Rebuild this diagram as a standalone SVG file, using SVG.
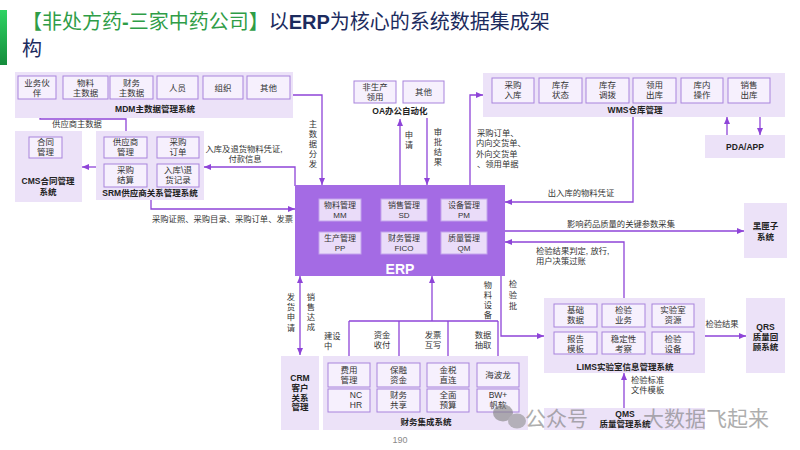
<svg xmlns="http://www.w3.org/2000/svg" width="800" height="450" viewBox="0 0 800 450">
<defs>
<linearGradient id="gbar" x1="0" y1="0" x2="0" y2="1"><stop offset="0" stop-color="#2fd363"/><stop offset="1" stop-color="#158c3c"/></linearGradient>
<marker id="ah" markerUnits="userSpaceOnUse" markerWidth="7" markerHeight="6" refX="7" refY="3" orient="auto-start-reverse"><path d="M0,0 L7,3 L0,6 z" fill="#8e44d8"/></marker>
<style>
text{font-family:'Liberation Sans','Noto Sans CJK SC',sans-serif;}
.ctr{fill:#ece2f8;}
.ib{fill:#f6f0fd;stroke:#a883dc;stroke-width:1;}
.eb{fill:#eadcf9;stroke:#c3a4ec;stroke-width:1;}
.t{font-size:8.5px;fill:#333;text-anchor:middle;}
.te{font-size:8px;fill:#333;text-anchor:middle;}
.b{font-size:8.5px;font-weight:bold;fill:#222;text-anchor:middle;}
.lb{font-size:8.3px;fill:#333;}
.lm{font-size:8.3px;fill:#333;text-anchor:middle;}
.ln{stroke:#8e44d8;stroke-width:1.3;fill:none;}
.ar{marker-end:url(#ah);}
</style>
</defs>
<rect width="800" height="450" fill="#ffffff"/>
<g id="title">
<rect x="0" y="10" width="7" height="55" fill="url(#gbar)"/>
<text x="22" y="29" font-size="20" fill="#1c2b5e"><tspan fill="#2f9d47">【非处方药</tspan><tspan fill="#2f9d47" font-weight="bold">-</tspan><tspan fill="#2f9d47">三家中药公司】</tspan>以<tspan font-weight="bold">ERP</tspan>为核心的系统数据集成架</text>
<text x="22" y="56" font-size="20" fill="#1c2b5e">构</text>
</g>
<g id="connectors">
<path class="ln ar" d="M293,95 H322 V185"/>
<path class="ln ar" d="M126,137 V119 H40 V100"/>
<path class="ln ar" d="M96,167 H82"/>
<path class="ln ar" d="M295,186 V167 H204"/>
<path class="ln ar" d="M151,200 V209 H295"/>
<path class="ln ar" d="M400,185 V119"/>
<path class="ln ar" d="M427,118 V185"/>
<path class="ln ar" d="M470,185 V95 H483"/>
<path class="ln ar" d="M727,135 V117"/>
<path class="ln ar" d="M760,117 V135"/>
<path class="ln ar" d="M633,117 V202 H505"/>
<path class="ln ar" d="M505,231 H744"/>
<path class="ln ar" d="M624,298 V242 H505"/>
<path class="ln ar" d="M501,276 V336 H544"/>
<path class="ln ar" d="M300,355 V276" style="marker-start:url(#ah)"/>
<path class="ln ar" d="M432,321 V276"/>
<path class="ln" d="M349,321 H498"/>
<path class="ln ar" d="M349,321 V363"/>
<path class="ln ar" d="M399,321 V363"/>
<path class="ln ar" d="M448,321 V363"/>
<path class="ln ar" d="M498,321 V363"/>
<path class="ln ar" d="M705,336 H746"/>
<path class="ln ar" d="M624,408 V373"/>
</g>
<g id="connector-labels">
<text class="lm" x="77" y="127">供应商主数据</text>
<text class="lm" x="244" y="152">入库及退货物料凭证,</text>
<text class="lm" x="245" y="162">付款信息</text>
<text class="lb" x="152" y="222">采购证照、采购目录、采购订单、发票</text>
<text class="lm" x="313"><tspan x="313" y="127">主</tspan><tspan x="313" y="137">数</tspan><tspan x="313" y="147">据</tspan><tspan x="313" y="157">分</tspan><tspan x="313" y="167">发</tspan></text>
<text class="lm" x="409"><tspan x="409" y="138">申</tspan><tspan x="409" y="148">请</tspan></text>
<text class="lm" x="438"><tspan x="438" y="135">审</tspan><tspan x="438" y="145">批</tspan><tspan x="438" y="155">结</tspan><tspan x="438" y="165">果</tspan></text>
<text class="lb" x="477" y="136">采购订单、</text>
<text class="lb" x="476" y="146">内向交货单、</text>
<text class="lb" x="476" y="157">外向交货单</text>
<text class="lb" x="477" y="167">、领用单据</text>
<text class="lm" x="581" y="196">出入库的物料凭证</text>
<text class="lm" x="621" y="227">影响药品质量的关键参数采集</text>
<text class="lb" x="536" y="254">检验结果判定, 放行,</text>
<text class="lb" x="536" y="264">用户决策过账</text>
<text class="lm" x="513"><tspan x="513" y="287">检</tspan><tspan x="513" y="298">验</tspan><tspan x="513" y="309">批</tspan></text>
<text class="lm" x="488"><tspan x="488" y="288">物</tspan><tspan x="488" y="298">料</tspan><tspan x="488" y="308">设</tspan><tspan x="488" y="318">备</tspan></text>
<text class="lm" x="291"><tspan x="291" y="300">发</tspan><tspan x="291" y="310">货</tspan><tspan x="291" y="320">申</tspan><tspan x="291" y="331">请</tspan></text>
<text class="lm" x="311"><tspan x="311" y="300">销</tspan><tspan x="311" y="310">售</tspan><tspan x="311" y="320">达</tspan><tspan x="311" y="330">成</tspan></text>
<text class="lb" x="324" y="339">建设</text>
<text class="lb" x="324" y="349">中</text>
<text class="lm" x="382" y="338">资金</text>
<text class="lm" x="382" y="348">收付</text>
<text class="lm" x="433" y="338">发票</text>
<text class="lm" x="433" y="348">互写</text>
<text class="lm" x="483" y="338">数据</text>
<text class="lm" x="483" y="348">抽取</text>
<text class="lm" x="722" y="327">检验结果</text>
<text class="lb" x="631" y="383">检验标准</text>
<text class="lb" x="631" y="393">文件模板</text>
</g>
<g id="mdm">
<rect class="ctr" x="15" y="72" width="278" height="46"/>
<rect class="ib" x="18" y="76" width="38" height="23"/><text class="t" x="37" y="85.5">业务伙</text><text class="t" x="37" y="96">伴</text>
<rect class="ib" x="63" y="76" width="45" height="23"/><text class="t" x="85.5" y="85.5">物料</text><text class="t" x="85.5" y="96">主数据</text>
<rect class="ib" x="110" y="76" width="43" height="23"/><text class="t" x="131.5" y="85.5">财务</text><text class="t" x="131.5" y="96">主数据</text>
<rect class="ib" x="157" y="76" width="41" height="23"/><text class="t" x="177.5" y="91">人员</text>
<rect class="ib" x="203" y="76" width="40" height="23"/><text class="t" x="223" y="91">组织</text>
<rect class="ib" x="247" y="76" width="43" height="23"/><text class="t" x="268.5" y="91">其他</text>
<text class="b" x="155" y="112">MDM主数据管理系统</text>
</g>
<g id="cms">
<rect class="ctr" x="15" y="131" width="67" height="71"/>
<rect class="ib" x="29" y="137" width="33" height="21"/><text class="t" x="45.5" y="145">合同</text><text class="t" x="45.5" y="155">管理</text>
<text class="b" x="48" y="184">CMS合同管理</text>
<text class="b" x="48" y="195">系统</text>
</g>
<g id="srm">
<rect class="ctr" x="96" y="131" width="108" height="69"/>
<rect class="ib" x="104" y="137" width="43" height="21"/><text class="t" x="125.5" y="145">供应商</text><text class="t" x="125.5" y="155">管理</text>
<rect class="ib" x="157" y="137" width="42" height="21"/><text class="t" x="178" y="145">采购</text><text class="t" x="178" y="155">订单</text>
<rect class="ib" x="104" y="164" width="43" height="23"/><text class="t" x="125.5" y="172.5">采购</text><text class="t" x="125.5" y="182.5">结算</text>
<rect class="ib" x="157" y="164" width="42" height="23"/><text class="t" x="178" y="172.5">入库\退</text><text class="t" x="178" y="182.5">货记录</text>
<text class="b" x="150" y="196">SRM供应商关系管理系统</text>
</g>
<g id="oa">
<rect class="ib" x="354" y="81" width="42" height="22"/><text class="t" x="375" y="90">非生产</text><text class="t" x="375" y="100">领用</text>
<rect class="ib" x="403" y="81" width="41" height="22"/><text class="t" x="423.5" y="95">其他</text>
<text class="b" x="400" y="114">OA办公自动化</text>
</g>
<g id="wms">
<rect class="ctr" x="483" y="73" width="302" height="44"/>
<rect class="ib" x="492" y="78" width="42" height="25"/><text class="t" x="513" y="88">采购</text><text class="t" x="513" y="98">入库</text>
<rect class="ib" x="539" y="78" width="43" height="25"/><text class="t" x="560.5" y="88">库存</text><text class="t" x="560.5" y="98">状态</text>
<rect class="ib" x="586" y="78" width="43" height="25"/><text class="t" x="607.5" y="88">库存</text><text class="t" x="607.5" y="98">调拨</text>
<rect class="ib" x="633" y="78" width="43" height="25"/><text class="t" x="654.5" y="88">领用</text><text class="t" x="654.5" y="98">出库</text>
<rect class="ib" x="681" y="78" width="42" height="25"/><text class="t" x="702" y="88">库内</text><text class="t" x="702" y="98">操作</text>
<rect class="ib" x="728" y="78" width="42" height="25"/><text class="t" x="749" y="88">销售</text><text class="t" x="749" y="98">出库</text>
<text class="b" x="635" y="113">WMS仓库管理</text>
</g>
<g id="pda">
<rect class="ctr" x="705" y="135" width="80" height="23"/>
<text class="b" x="745" y="150">PDA/APP</text>
</g>
<g id="erp">
<rect x="295" y="185" width="210" height="91" fill="#a46be4"/>
<rect class="eb" x="319" y="199" width="42" height="22"/><text class="te" x="340" y="207.5">物料管理</text><text class="te" x="340" y="218">MM</text>
<rect class="eb" x="381" y="199" width="46" height="22"/><text class="te" x="404" y="207.5">销售管理</text><text class="te" x="404" y="218">SD</text>
<rect class="eb" x="441" y="199" width="46" height="22"/><text class="te" x="464" y="207.5">设备管理</text><text class="te" x="464" y="218">PM</text>
<rect class="eb" x="319" y="232" width="42" height="22"/><text class="te" x="340" y="240.5">生产管理</text><text class="te" x="340" y="251">PP</text>
<rect class="eb" x="381" y="232" width="46" height="22"/><text class="te" x="404" y="240.5">财务管理</text><text class="te" x="404" y="251">FICO</text>
<rect class="eb" x="441" y="232" width="46" height="22"/><text class="te" x="464" y="240.5">质量管理</text><text class="te" x="464" y="251">QM</text>
<text x="400" y="274" font-size="14" font-weight="bold" fill="#ffffff" text-anchor="middle">ERP</text>
</g>
<g id="blackbox">
<rect class="ctr" x="744" y="203" width="43" height="55"/>
<text class="b" x="765.5" y="229">黑匣子</text>
<text class="b" x="765.5" y="240">系统</text>
</g>
<g id="lims">
<rect class="ctr" x="544" y="298" width="161" height="75"/>
<rect class="ib" x="554" y="304" width="43" height="23"/><text class="t" x="575.5" y="313">基础</text><text class="t" x="575.5" y="323">数据</text>
<rect class="ib" x="602" y="304" width="43" height="23"/><text class="t" x="623.5" y="313">检验</text><text class="t" x="623.5" y="323">业务</text>
<rect class="ib" x="652" y="304" width="42" height="23"/><text class="t" x="673" y="313">实验室</text><text class="t" x="673" y="323">资源</text>
<rect class="ib" x="554" y="332" width="43" height="22"/><text class="t" x="575.5" y="341.5">报告</text><text class="t" x="575.5" y="351.5">模板</text>
<rect class="ib" x="602" y="332" width="43" height="22"/><text class="t" x="623.5" y="341.5">稳定性</text><text class="t" x="623.5" y="351.5">考察</text>
<rect class="ib" x="652" y="332" width="42" height="22"/><text class="t" x="673" y="341.5">检验</text><text class="t" x="673" y="351.5">设备</text>
<text class="b" x="625" y="370">LIMS实验室信息管理系统</text>
</g>
<g id="qrs">
<rect class="ctr" x="746" y="298" width="39" height="75"/>
<text class="b" x="765.5" y="330">QRS</text>
<text class="b" x="765.5" y="340">质量回</text>
<text class="b" x="765.5" y="350">顾系统</text>
</g>
<g id="qms">
<rect class="ctr" x="544" y="408" width="161" height="22"/>
<text class="b" x="625" y="417">QMS</text>
<text class="b" x="625" y="427">质量管理系统</text>
</g>
<g id="crm">
<rect class="ctr" x="281" y="356" width="38" height="74"/>
<text class="b" x="300" y="381">CRM</text>
<text class="b" x="300" y="391">客户</text>
<text class="b" x="300" y="401">关系</text>
<text class="b" x="300" y="410">管理</text>
</g>
<g id="finance">
<rect class="ctr" x="323" y="356" width="205" height="74"/>
<rect class="ib" x="328" y="363" width="42" height="24"/><text class="t" x="349" y="372.5">费用</text><text class="t" x="349" y="382.5">管理</text>
<rect class="ib" x="377" y="363" width="43" height="24"/><text class="t" x="398.5" y="372.5">保融</text><text class="t" x="398.5" y="382.5">资金</text>
<rect class="ib" x="427" y="363" width="42" height="24"/><text class="t" x="448" y="372.5">金税</text><text class="t" x="448" y="382.5">直连</text>
<rect class="ib" x="477" y="363" width="42" height="24"/><text class="t" x="498" y="378">海波龙</text>
<rect class="ib" x="328" y="389" width="42" height="23"/><text class="t" x="356" y="398">NC</text><text class="t" x="356" y="408">HR</text>
<rect class="ib" x="377" y="389" width="43" height="23"/><text class="t" x="398.5" y="398">财务</text><text class="t" x="398.5" y="408">共享</text>
<rect class="ib" x="427" y="389" width="42" height="23"/><text class="t" x="448" y="398">全面</text><text class="t" x="448" y="408">预算</text>
<rect class="ib" x="477" y="389" width="42" height="23"/><text class="t" x="498" y="398">BW+</text><text class="t" x="498" y="408">帆软</text>
<text class="b" x="426" y="425">财务集成系统</text>
</g>
<text x="400" y="443" font-size="9" fill="#8a8a8a" text-anchor="middle">190</text>
<g id="watermark" opacity="0.6">
<ellipse cx="503" cy="413" rx="10" ry="8.5" fill="#808080"/>
<ellipse cx="517" cy="421" rx="9" ry="7.5" fill="#909090"/>
<text x="525" y="426" font-size="21" fill="#7a7a7a">公众号</text>
<text x="611" y="426" font-size="21" fill="#7a7a7a">·</text>
<text x="643" y="426" font-size="21" fill="#7a7a7a">大数据飞起来</text>
</g>
</svg>
